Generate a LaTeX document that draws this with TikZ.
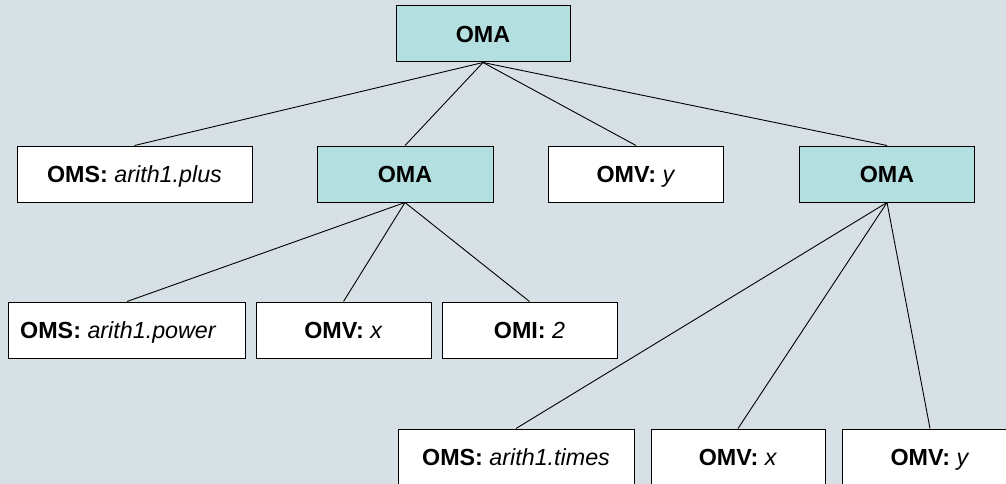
\documentclass[tikz,border=0pt]{standalone}
\usepackage{fontspec}
\setmainfont{Liberation Sans}
\definecolor{bgcol}{RGB}{215,225,229}
\definecolor{omafill}{RGB}{180,223,224}
\begin{document}
\begin{tikzpicture}[x=1pt,y=-1pt,
  txt/.style={font=\fontsize{23.3}{27}\selectfont,text height=21.4pt,text depth=5pt},
  box/.style={txt,draw=black,line width=1pt,rectangle,minimum height=56pt,inner sep=0pt,fill=white},
  oma/.style={box,fill=omafill},
  edge/.style={draw=black,line width=0.9pt}]
\useasboundingbox (0,0) rectangle (1006,484);
\clip (0,0) rectangle (1006,484);
\fill[bgcol] (0,0) rectangle (1006,484);
% level 0
\node[oma,minimum width=174pt] (root) at (483,34) {\textbf{OMA}};
% level 1
\node[box,minimum width=235pt] (plus) at (134.5,174) {\textbf{OMS:} \textit{arith1.plus}};
\node[oma,minimum width=176pt] (omaA) at (405,174) {\textbf{OMA}};
\node[box,minimum width=175pt] (vy) at (636,174) {\textbf{OMV:} \textit{y}};
\node[oma,minimum width=175pt] (omaB) at (887,174) {\textbf{OMA}};
% level 2
\node[box,minimum width=237pt] (power) at (127,330) {};
\node[txt,anchor=west,inner sep=0pt] (powertxt) at (20,330) {\textbf{OMS:} \textit{arith1.power}};
\node[box,minimum width=175pt] (vx) at (343.5,330) {\textbf{OMV:} \textit{x}};
\node[box,minimum width=175pt] (omi) at (529.5,330) {\textbf{OMI:} \textit{2}};
% level 3
\node[box,minimum width=236pt] (times) at (516,457) {\textbf{OMS:} \textit{arith1.times}};
\node[box,minimum width=174pt] (vx2) at (738,457) {\textbf{OMV:} \textit{x}};
\node[box,minimum width=175pt] (vy2) at (930,457) {\textbf{OMV:} \textit{y}};
% edges
\draw[edge] (root.south) -- (plus.north);
\draw[edge] (root.south) -- (omaA.north);
\draw[edge] (root.south) -- (vy.north);
\draw[edge] (root.south) -- (omaB.north);
\draw[edge] (omaA.south) -- (power.north);
\draw[edge] (omaA.south) -- (vx.north);
\draw[edge] (omaA.south) -- (omi.north);
\draw[edge] (omaB.south) -- (times.north);
\draw[edge] (omaB.south) -- (vx2.north);
\draw[edge] (omaB.south) -- (vy2.north);
\end{tikzpicture}
\end{document}
